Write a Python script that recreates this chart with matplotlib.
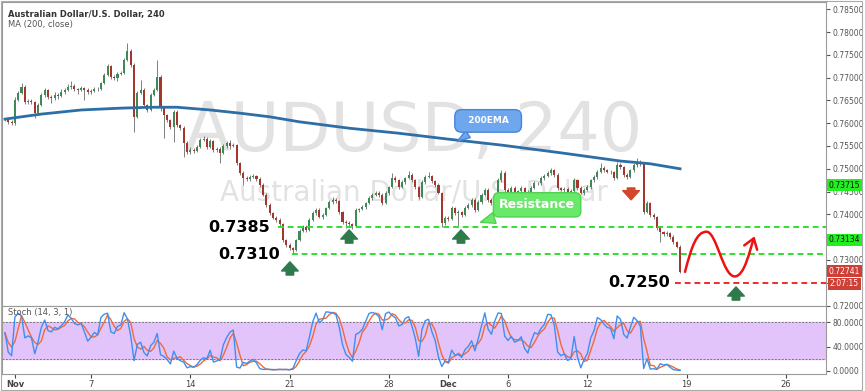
import matplotlib.pyplot as plt
import numpy as np
import pandas as pd
from matplotlib.path import Path
from matplotlib.patches import FancyArrowPatch, Rectangle

plt.rcParams['font.family'] = ['DejaVu Sans']

# AUD/USD 4h candles (open of bar n = close of bar n-1)
first_open = 0.7607
closes = [
    0.7609, 0.7603, 0.7600, 0.7651, 0.7666, 0.7679, 0.7646, 0.7649, 0.7646, 0.7622,
    0.7640, 0.7662, 0.7673, 0.7657, 0.7655, 0.7662, 0.7660, 0.7668, 0.7673, 0.7679,
    0.7682, 0.7675, 0.7673, 0.7677, 0.7673, 0.7668, 0.7671, 0.7675, 0.7676, 0.7688,
    0.7706, 0.7725, 0.7701, 0.7699, 0.7708, 0.7710, 0.7739, 0.7758, 0.7728, 0.7614,
    0.7666, 0.7673, 0.7640, 0.7629, 0.7662, 0.7673, 0.7701, 0.7633, 0.7618, 0.7607,
    0.7592, 0.7625, 0.7596, 0.7589, 0.7557, 0.7537, 0.7541, 0.7539, 0.7548, 0.7563,
    0.7565, 0.7548, 0.7561, 0.7541, 0.7543, 0.7535, 0.7550, 0.7557, 0.7550, 0.7552,
    0.7513, 0.7491, 0.7480, 0.7478, 0.7482, 0.7484, 0.7478, 0.7464, 0.7443, 0.7421,
    0.7403, 0.7392, 0.7388, 0.7379, 0.7344, 0.7333, 0.7326, 0.7322, 0.7344, 0.7364,
    0.7372, 0.7366, 0.7388, 0.7403, 0.7410, 0.7394, 0.7399, 0.7414, 0.7427, 0.7432,
    0.7429, 0.7405, 0.7383, 0.7382, 0.7379, 0.7375, 0.7410, 0.7412, 0.7416, 0.7425,
    0.7436, 0.7443, 0.7447, 0.7443, 0.7425, 0.7447, 0.7460, 0.7480, 0.7475, 0.7460,
    0.7471, 0.7480, 0.7486, 0.7475, 0.7460, 0.7438, 0.7471, 0.7482, 0.7484, 0.7473,
    0.7464, 0.7447, 0.7381, 0.7392, 0.7390, 0.7414, 0.7403, 0.7405, 0.7399, 0.7414,
    0.7421, 0.7432, 0.7410, 0.7427, 0.7443, 0.7454, 0.7432, 0.7425, 0.7443, 0.7475,
    0.7491, 0.7454, 0.7447, 0.7458, 0.7449, 0.7451, 0.7458, 0.7449, 0.7443, 0.7458,
    0.7469, 0.7468, 0.7480, 0.7484, 0.7491, 0.7497, 0.7486, 0.7458, 0.7454, 0.7456,
    0.7449, 0.7451, 0.7475, 0.7458, 0.7447, 0.7454, 0.7460, 0.7475, 0.7482, 0.7493,
    0.7502, 0.7497, 0.7493, 0.7492, 0.7480, 0.7508, 0.7504, 0.7486, 0.7482, 0.7497,
    0.7508, 0.7515, 0.7511, 0.7405, 0.7425, 0.7399, 0.7394, 0.7370, 0.7361, 0.7357,
    0.7359, 0.7350, 0.7339, 0.7329, 0.72741,
]
# wick lengths beyond the body, in pips
upper_wick = [
    3, 2, 3, 7, 4, 9, 4, 5, 3, 3,   4, 5, 4, 3, 4, 6, 5, 8, 4, 6,
    11, 4, 3, 4, 3, 4, 3, 5, 4, 3,  4, 4, 3, 4, 4, 5, 4, 18, 4, 3,
    4, 22, 4, 3, 4, 5, 37, 4, 3, 3, 3, 4, 4, 3, 4, 3, 6, 5, 4, 5,
    6, 4, 5, 3, 4, 4, 5, 4, 6, 4,   3, 3, 4, 5, 4, 4, 3, 3, 4, 3,
    3, 3, 4, 4, 3, 3, 4, 3, 3, 4,   5, 4, 3, 4, 5, 3, 4, 3, 4, 6,
    4, 3, 3, 4, 3, 3, 4, 3, 4, 3,   4, 3, 5, 4, 3, 4, 3, 11, 4, 3,
    4, 3, 9, 4, 3, 3, 4, 5, 9, 3,   3, 4, 3, 4, 5, 4, 3, 4, 3, 4,
    4, 3, 4, 5, 3, 4, 3, 4, 3, 5,   7, 4, 3, 4, 5, 3, 4, 3, 4, 5,
    4, 3, 5, 4, 4, 5, 3, 4, 3, 4,   3, 4, 5, 3, 4, 3, 4, 3, 4, 5,
    11, 4, 3, 4, 3, 7, 4, 3, 4, 3,  4, 9, 4, 3, 4, 3, 4, 3, 4, 3,
    4, 3, 4, 3, 3,
]
lower_wick = [
    3, 4, 4, 3, 3, 3, 4, 3, 4, 11,  3, 3, 4, 3, 11, 4, 8, 3, 4, 3,
    3, 4, 10, 3, 22, 4, 5, 3, 4, 3, 3, 3, 5, 4, 6, 3, 3, 3, 4, 33,
    3, 3, 4, 5, 3, 3, 3, 6, 50, 4,  4, 33, 4, 5, 31, 4, 5, 4, 3, 3,
    3, 5, 3, 4, 5, 22, 3, 4, 6, 3,  4, 4, 15, 4, 5, 3, 4, 4, 3, 4,
    4, 3, 4, 5, 4, 4, 3, 7, 3, 3,   3, 4, 3, 3, 4, 3, 4, 3, 3, 4,
    4, 5, 4, 11, 5, 7, 3, 4, 3, 4,  3, 4, 3, 4, 5, 3, 4, 3, 4, 4,
    3, 4, 3, 4, 4, 5, 3, 4, 3, 4,   4, 3, 9, 4, 5, 3, 4, 28, 4, 3,
    3, 4, 5, 3, 4, 3, 4, 5, 3, 4,   3, 4, 5, 3, 4, 3, 4, 4, 5, 3,
    3, 4, 3, 4, 3, 4, 4, 5, 3, 4,   4, 3, 4, 5, 3, 4, 3, 4, 3, 4,
    3, 4, 3, 4, 5, 3, 4, 3, 4, 3,   3, 3, 4, 5, 3, 4, 5, 4, 22, 4,
    4, 5, 4, 3, 2,
]

# 200 MA, sampled along the drawn line
ma_bars = [1, 12, 24, 36, 45, 53, 63, 72, 81, 90, 105, 120, 135, 151, 169, 187, 196, 205]
ma_values = [0.7609, 0.7620, 0.7629, 0.7633, 0.7635, 0.7635, 0.7629, 0.7622, 0.7614,
             0.7603, 0.7589, 0.7578, 0.7565, 0.7552, 0.7535, 0.7517, 0.7511, 0.7500]

date_bars = [4, 27, 57, 87, 117, 135, 153, 177, 207, 237]
date_labels = ['Nov', '7', '14', '21', '28', 'Dec', '6', '12', '19', '26']

support_hi = 0.73715
support_lo = 0.73134
target = 0.7250

up_col, down_col = '#3d8a57', '#a5352d'

bars = np.arange(1, len(closes) + 1)
c = np.array(closes)
o = np.concatenate([[first_open], c[:-1]])
h = np.maximum(o, c) + np.array(upper_wick) * 1e-4
l = np.minimum(o, c) - np.array(lower_wick) * 1e-4

# stochastic from the candles
hh = pd.Series(h).rolling(14, min_periods=1).max()
ll = pd.Series(l).rolling(14, min_periods=1).min()
k = 100 * (pd.Series(c) - ll) / (hh - ll)
d = k.rolling(3, min_periods=1).mean()

W, H = 865, 391


def frame(x0, y0, x1, y1):
    return [x0 / W, 1 - y1 / H, (x1 - x0) / W, (y1 - y0) / H]


fig = plt.figure(figsize=(8.65, 3.91), dpi=100)
ax = fig.add_axes(frame(2, 2, 826, 306))
ax2 = fig.add_axes(frame(2, 306, 826, 374), sharex=ax)

# watermark
ax.text(0.5, 0.572, 'AUDUSD, 240', transform=ax.transAxes, fontsize=48,
        color='#e2e2e2', ha='center', va='center', zorder=0)
ax.text(0.5, 0.375, 'Australian Dollar/U.S. Dollar', transform=ax.transAxes,
        fontsize=20, color='#e2e2e2', ha='center', va='center', zorder=0)

# candles
up = c >= o
ax.vlines(bars, l, h, color='#6a6a6a', lw=0.6, zorder=2)
body = np.maximum(np.abs(c - o), 0.00005)
ax.bar(bars[up], body[up], bottom=np.minimum(o, c)[up], width=0.62,
       color=up_col, zorder=3)
ax.bar(bars[~up], body[~up], bottom=np.minimum(o, c)[~up], width=0.62,
       color=down_col, zorder=3)

ax.plot(ma_bars, ma_values, color='#2d6ea5', lw=2, zorder=4)

# levels
ax.hlines(support_hi, 83.5, 249.1, color='#2fe02f', lw=1.4, linestyles=(0, (3, 2)), zorder=4)
ax.hlines(support_lo, 87.7, 249.1, color='#2fe02f', lw=1.4, linestyles=(0, (3, 2)), zorder=4)
ax.hlines(target, 203.4, 249.1, color='#f02a2a', lw=1.4, linestyles=(0, (3, 2)), zorder=4)

ax.text(81, 0.7371, '0.7385', fontsize=11.5, fontweight='bold', ha='right', va='center', zorder=6)
ax.text(84, 0.7313, '0.7310', fontsize=11.5, fontweight='bold', ha='right', va='center', zorder=6)
ax.text(202, 0.7250, '0.7250', fontsize=11.5, fontweight='bold', ha='right', va='center', zorder=6)

arrow_style = 'simple,head_length=0.55,head_width=1.0,tail_width=0.45'
for bx, tail, tip in [(87.1, 0.7267, 0.7296), (105.0, 0.7337, 0.7366),
                      (138.8, 0.7337, 0.7366), (221.9, 0.7212, 0.7241)]:
    ax.annotate('', xy=(bx, tip), xytext=(bx, tail), zorder=6,
                arrowprops=dict(arrowstyle=arrow_style, fc='#2f7a4c', ec='#2f7a4c',
                                mutation_scale=12, shrinkA=0, shrinkB=0))
ax.annotate('', xy=(190.2, 0.7432), xytext=(190.2, 0.7458), zorder=6,
            arrowprops=dict(arrowstyle=arrow_style, fc='#d4462c', ec='#d4462c',
                            mutation_scale=12, shrinkA=0, shrinkB=0))

# expected path after the drop
verts = [(206.5, 0.7274), (208.5, 0.7330), (210.0, 0.7362), (213.0, 0.7362),
         (216.0, 0.7362), (218.0, 0.7264), (221.5, 0.7264),
         (224.5, 0.7264), (226.0, 0.7320), (227.5, 0.7352)]
codes = [Path.MOVETO] + [Path.CURVE4] * 9
ax.add_patch(FancyArrowPatch(path=Path(verts, codes), arrowstyle='->,head_length=0.5,head_width=0.35',
                             mutation_scale=14, color='#ee1111', lw=1.8, zorder=6))

# callouts
ax.annotate('Resistance', xy=(143.9, 0.7381), xytext=(161.8, 0.7421),
            fontsize=9, fontweight='bold', color='white', ha='center', va='center', zorder=7,
            bbox=dict(boxstyle='round,pad=0.45', fc='#6ae86a', ec='#4fd24f'),
            arrowprops=dict(arrowstyle='wedge,tail_width=0.9', fc='#6ae86a', ec='#4fd24f'))
ax.annotate('  200EMA  ', xy=(137.0, 0.7557), xytext=(147.0, 0.7605),
            fontsize=6.5, fontweight='bold', color='white', ha='center', va='center', zorder=7,
            bbox=dict(boxstyle='round,pad=0.75', fc='#6fa7ee', ec='#4a84da'),
            arrowprops=dict(arrowstyle='wedge,tail_width=0.9', fc='#6fa7ee', ec='#4a84da'))

ax.set_xlim(0.1, 249.1)
ax.set_ylim(0.71991, 0.78658)
ax.yaxis.tick_right()
price_ticks = np.arange(0.720, 0.7851, 0.005)
# 0.725 and 0.735 sit under the price boxes on the scale
ax.set_yticks(price_ticks)
ax.set_yticklabels(['' if round(v, 3) in (0.725, 0.735) else f'{v:.5f}' for v in price_ticks])
ax.tick_params(axis='y', labelsize=5.5, colors='#555555', length=3, pad=2)
ax.tick_params(axis='x', bottom=False, labelbottom=False)

# stochastic pane
ax2.axhspan(20, 80, color='#e3c4fa', zorder=0)
ax2.axhline(80, color='#777777', lw=0.7, ls=(0, (2, 1.5)), zorder=1)
ax2.axhline(20, color='#777777', lw=0.7, ls=(0, (2, 1.5)), zorder=1)
ax2.plot(bars, k, color='#3d8ff0', lw=1, zorder=3)
ax2.plot(bars, d, color='#ee6a3a', lw=1, zorder=2)
ax2.text(0.007, 0.9, 'Stoch (14, 3, 1)', transform=ax2.transAxes, fontsize=6,
         color='#555555', va='center')
ax2.set_ylim(-5, 106.7)
ax2.yaxis.tick_right()
ax2.set_yticks([0, 40, 80])
ax2.set_yticklabels(['0.0000', '40.0000', '80.0000'])
ax2.tick_params(axis='y', labelsize=5.5, colors='#555555', length=3, pad=2)
ax2.set_xticks(date_bars)
ax2.set_xticklabels(date_labels)
ax2.tick_params(axis='x', labelsize=6, colors='#444444', length=3, pad=1.5)
for lab in ax2.get_xticklabels():
    if lab.get_text() in ('Nov', 'Dec'):
        lab.set_fontweight('bold')

for a in (ax, ax2):
    for s in a.spines.values():
        s.set_color('#9a9a9a')
        s.set_linewidth(0.8)

# header
fig.text(8 / W, 1 - 14 / H, 'Australian Dollar/U.S. Dollar, 240', fontsize=6,
         fontweight='bold', color='#333333', va='center')
fig.text(8 / W, 1 - 25 / H, 'MA (200, close)', fontsize=6, color='#555555', va='center')

# price labels on the scale
for txt, ypx, fc, tc in [('0.73715', 185, '#22ee22', '#111111'),
                         ('0.73134', 240, '#22ee22', '#111111'),
                         ('0.72741', 271, '#cf3f36', 'white'),
                         ('2:07:15', 284, '#cf3f36', 'white')]:
    fig.text(844.5 / W, 1 - ypx / H, txt, ha='center', va='center', fontsize=5.5,
             color=tc, zorder=10,
             bbox=dict(boxstyle='square,pad=0.25', fc=fc, ec='none'))

fig.patches.append(Rectangle((0.5 / W, 1 - 390 / H), 861 / W, 389 / H, fill=False,
                             ec='#aaaaaa', lw=0.8, transform=fig.transFigure))

plt.savefig('out.png', dpi=100)
